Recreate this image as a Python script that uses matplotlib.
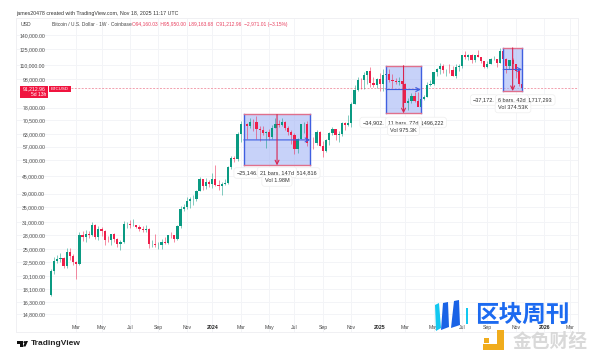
import matplotlib
matplotlib.use("Agg")
import matplotlib.pyplot as plt
import matplotlib.dates as mdates
from matplotlib.patches import Polygon, Rectangle, Circle
import pandas as pd

plt.rcParams["font.family"] = ["Liberation Sans", "DejaVu Sans"]

# weekly BTCUSD candles, first bar is week of 2023-01-09
first_week = "2023-01-09"
opens = [17180, 20880, 22700, 23020, 23320, 21850, 24300, 23550, 22430, 22150,
         27980, 27480, 28170, 27950, 30300, 27590, 29250, 28850, 26780, 26750,
         28080, 27100, 25900, 26340, 30480, 30600, 30280, 30300, 29780, 29350,
         29050, 29300, 26050, 26050, 25850, 25850, 26530, 26250, 27970, 27930,
         27150, 29980, 34500, 35000, 36700, 37400, 37450, 39950, 43750, 41400,
         43000, 42300, 43950, 41750, 41550, 42050, 42600, 48300, 52150, 51700,
         63100, 68400, 68400, 67200, 69650, 69350, 65700, 64950, 63400, 64000,
         61500, 66250, 68500, 67750, 69650, 66200, 64250, 62700, 55900, 60800,
         68150, 68250, 58700, 58700, 58450, 64200, 57300, 54850, 60000, 63600,
         65600, 62800, 62900, 69000, 68000, 68800, 80400, 89800, 97700, 97200,
         101200, 104400, 95200, 93700, 98300, 94500, 101300, 102600, 97700, 96500,
         96100, 96300, 94200, 80700, 82500, 86000, 82400, 78300, 83600, 85200,
         93700, 94300, 104000, 106400, 109000, 105700, 105700, 105500, 100900, 108400,
         109200, 119000, 117300, 119400, 114200, 119300, 117500, 113500, 108200, 111100,
         115300, 115300, 112100, 123500, 115000, 108700, 114500, 110500, 104700, 94160]
highs = [21300, 23370, 23800, 24250, 23450, 25250, 25100, 23900, 22600, 28700,
         28900, 29200, 28800, 31000, 30480, 30000, 29800, 29150, 27650, 27500,
         28450, 27400, 26800, 31400, 31000, 31500, 31800, 30400, 30300, 30050,
         30200, 29700, 26800, 28150, 26400, 27000, 27500, 28050, 28600, 28000,
         30200, 35300, 35900, 38000, 37950, 38450, 40250, 44750, 43800, 44300,
         43700, 45900, 49050, 43600, 42800, 43850, 48600, 52800, 53000, 64000,
         70000, 73800, 68900, 71700, 71300, 72800, 67200, 67200, 64700, 65500,
         67700, 71950, 70600, 71950, 70200, 67200, 65000, 63800, 61300, 68400,
         69400, 70000, 62700, 61800, 65000, 64400, 59800, 60700, 64100, 66500,
         65600, 64400, 69400, 69500, 73600, 81500, 93500, 99800, 98700, 104000,
         105000, 108300, 99900, 99000, 102700, 106400, 109300, 106500, 102500, 98800,
         99500, 96500, 95000, 84500, 87500, 88800, 88500, 83500, 86500, 95700,
         97400, 104300, 107000, 112000, 110700, 106800, 110500, 108900, 110600, 110500,
         119400, 123200, 120200, 119800, 119300, 124500, 117600, 113500, 113400, 116700,
         117900, 115400, 125700, 126200, 115900, 114000, 116400, 110700, 107500, 95950]
lows = [17150, 20400, 22300, 22500, 21400, 21400, 22800, 21950, 19570, 21900,
        26600, 26500, 27200, 27800, 27100, 26950, 27700, 25800, 26350, 25850,
        26500, 25350, 24800, 26250, 29500, 29700, 29950, 29600, 28900, 28600,
        28700, 25200, 25350, 25400, 24900, 24900, 26000, 26000, 27200, 26500,
        26900, 29700, 34000, 34550, 34800, 35600, 36700, 39950, 40200, 40500,
        41300, 40750, 41500, 40300, 38500, 41900, 42300, 47700, 50500, 50900,
        59000, 64500, 60800, 66400, 64500, 60700, 59600, 62400, 56500, 60200,
        60800, 66100, 66700, 67500, 65000, 62700, 58400, 53500, 54300, 60700,
        63400, 57200, 49000, 56100, 57800, 57200, 52500, 54600, 57500, 62700,
        60000, 58900, 62000, 65100, 67500, 66800, 80300, 89400, 90800, 90500,
        94200, 92200, 92000, 91500, 89200, 89300, 98200, 96200, 91200, 94100,
        93300, 78200, 81500, 76600, 81100, 81600, 81300, 74500, 83100, 85000,
        92900, 93400, 100700, 102000, 103000, 100400, 102700, 100800, 99000, 105100,
        107500, 115700, 114700, 111900, 112600, 116800, 111700, 107300, 107300, 110600,
        114400, 108600, 111600, 102000, 103500, 106200, 106300, 98900, 93000, 89163]
closes = [20880, 22700, 23020, 23320, 21850, 24300, 23550, 22430, 22150, 27980,
          27480, 28170, 27950, 30300, 27590, 29250, 28850, 26780, 26750, 28080,
          27100, 25900, 26340, 30480, 30600, 30280, 30300, 29780, 29350, 29050,
          29300, 26050, 26050, 25850, 25850, 26530, 26250, 27970, 27930, 27150,
          29980, 34500, 35000, 36700, 37400, 37450, 39950, 43750, 41400, 43000,
          42300, 43950, 41750, 41550, 42050, 42600, 48300, 52150, 51700, 63100,
          68400, 68400, 67200, 69650, 69350, 65700, 64950, 63400, 64000, 61500,
          66250, 68500, 67750, 69650, 66200, 64250, 62700, 55900, 60800, 68150,
          68250, 58700, 58700, 58450, 64200, 57300, 54850, 60000, 63600, 65600,
          62800, 62900, 69000, 68000, 68800, 80400, 89800, 97700, 97200, 101200,
          104400, 95200, 93700, 98300, 94500, 101300, 102600, 97700, 96500, 96100,
          96300, 94200, 80700, 82500, 86000, 82400, 78300, 83600, 85200, 93700,
          94300, 104000, 106400, 109000, 105700, 105700, 105500, 100900, 108400, 109200,
          119000, 117300, 119400, 114200, 119300, 117500, 113500, 108200, 111100, 115300,
          115300, 112100, 123500, 115000, 108700, 114500, 110500, 104700, 94160, 91212]

price_ticks = [140000, 125000, 110000, 98000, 78000, 70500, 63000, 57000, 51000, 45000,
               39000, 35000, 31000, 28000, 25000, 22500, 20100, 18100, 16300, 14800]
month_ticks = ["2023-03-06", "2023-05-01", "2023-07-03", "2023-09-04", "2023-11-06",
               "2024-01-01", "2024-03-04", "2024-05-06", "2024-07-01", "2024-09-02", "2024-11-04",
               "2025-01-06", "2025-03-03", "2025-05-05", "2025-07-07", "2025-09-01", "2025-11-03",
               "2026-01-05", "2026-03-02"]
month_labels = ["Mar", "May", "Jul", "Sep", "Nov", "2024", "Mar", "May", "Jul", "Sep", "Nov",
                "2025", "Mar", "May", "Jul", "Sep", "Nov", "2026", "Mar"]

# measure tool boxes: start week, end week, top price, bottom price
box_starts = ["2024-03-11", "2025-01-20", "2025-10-06"]
box_ends = ["2024-08-05", "2025-04-07", "2025-11-17"]
box_tops = [73800, 109300, 126200]
box_bottoms = [49000, 74500, 89163]

last_price = 91212.96
GREEN = "#0a9a82"
RED = "#ee1f4b"
BLUE = "#3f5fe0"
W, H = 600, 362

dates = mdates.date2num(pd.date_range(first_week, periods=len(closes), freq="7D"))
day_px = 3.17 / 7  # pixels per day on the time axis

fig = plt.figure(figsize=(6, 3.62), dpi=100)
L, R, T, B = 16, 578, 18, 332
ax = fig.add_axes([L / W, 1 - B / H, (R - L) / W, (B - T) / H])
ax.set_yscale("log")
ax.set_ylim(12800, 160550)
ax.set_xlim(dates[0] - (51 - L) / day_px, dates[-1] + (R - 522) / day_px)

month_nums = mdates.date2num(pd.to_datetime(month_ticks))
ax.set_yticks(price_ticks)
ax.set_yticklabels([f"{p:,.2f}" for p in price_ticks], fontsize=3.7, color="#4a4a4a")
ax.yaxis.set_minor_locator(plt.NullLocator())
ax.tick_params(axis="y", which="both", length=0, pad=-21)
ax.set_xticks(month_nums)
ax.set_xticklabels(month_labels, fontsize=3.7, color="#4a4a4a")
ax.tick_params(axis="x", length=0, pad=-5.3)
for lab, txt in zip(ax.get_xticklabels(), month_labels):
    if txt.startswith("20"):
        lab.set_fontweight("bold")
        lab.set_color("#222222")
ax.grid(True, which="major", color="#f3f4f7", lw=0.7)
ax.set_axisbelow(True)
for s in ax.spines.values():
    s.set_color("#f0f0f3")
    s.set_linewidth(0.7)

# candles
for d, o, h, l, c in zip(dates, opens, highs, lows, closes):
    col = GREEN if c >= o else RED
    ax.vlines(d, l, h, color=col, lw=0.55, alpha=0.65, zorder=3)
    ax.bar(d, abs(c - o), bottom=min(o, c), width=5.0, color=col, lw=0, zorder=3)

# last price line
ax.plot([dates[0] + 20 / day_px, dates[-1] + 56 / day_px], [last_price, last_price],
        color="#f2a0ae", lw=0.7, ls=(0, (2, 1.5)), zorder=2)

# measure boxes
for st, en, top, bot in zip(box_starts, box_ends, box_tops, box_bottoms):
    x0, x1 = mdates.date2num(pd.Timestamp(st)), mdates.date2num(pd.Timestamp(en))
    mid = (top * bot) ** 0.5
    xm = (x0 + x1) / 2
    ax.add_patch(Rectangle((x0, bot), x1 - x0, top - bot, fc="#9fb2f5", alpha=0.58, lw=0, zorder=2.5))
    ax.plot([x0, x0], [bot, top], color=BLUE, lw=1.0, zorder=5)
    ax.plot([x1, x1], [bot, top], color=BLUE, lw=1.0, zorder=5)
    ax.plot([x0, x1], [top, top], color="#e0708c", lw=1.0, zorder=5)
    ax.plot([x0, x1], [bot, bot], color="#e0708c", lw=1.0, zorder=5)
    ax.annotate("", xy=(x1, mid), xytext=(x0, mid), zorder=5,
                arrowprops=dict(arrowstyle="->", color=BLUE, lw=0.8, shrinkA=0, shrinkB=0, mutation_scale=7))
    ax.annotate("", xy=(xm, bot), xytext=(xm, top), zorder=5,
                arrowprops=dict(arrowstyle="->", color="#d8244f", lw=0.8, shrinkA=0, shrinkB=0, mutation_scale=7))

# overlay in pixels for the texts and logos
ov = fig.add_axes([0, 0, 1, 1], facecolor="none")
ov.set_xlim(0, W)
ov.set_ylim(H, 0)
ov.axis("off")

ov.text(16, 14, "james20478 created with TradingView.com, Nov 18, 2025 11:17 UTC",
        fontsize=3.75, color="#333333", va="center")
ov.text(21, 24.5, "USD", fontsize=3.7, color="#444444", va="center")
ov.text(52, 24.5, "Bitcoin / U.S. Dollar · 1W · Coinbase", fontsize=3.5, color="#444444", va="center")
ov.text(132, 24.5, "O94,160.03  H95,950.00  L89,163.68  C91,212.96  −2,971.01 (−3.15%)",
        fontsize=3.5, color="#e8405f", va="center")

# price tag
ov.add_patch(Rectangle((20, 86), 28, 12, fc="#f0143f", lw=0))
ov.add_patch(Rectangle((49, 86), 22, 6, fc="#f0143f", lw=0))
ov.text(46, 89, "91,212.96", fontsize=3.7, color="white", ha="right", va="center")
ov.text(46, 94.5, "5d 13h", fontsize=3.6, color="white", ha="right", va="center")
ov.text(60, 89.2, "BTCUSD", fontsize=3.2, color="white", ha="center", va="center")


def label(x0, x1, y, txt):
    ov.text((x0 + x1) / 2, y, txt, fontsize=4.0, color="#333333", ha="center", va="center", zorder=7,
            bbox=dict(boxstyle="round,pad=0.5", fc="white", ec="#eeeeee", lw=0.5))


label(238, 257, 173, "−25,146.")
label(297, 316, 173, ",514,816")
label(261, 293, 172.5, "21 bars, 147d")
label(266, 288, 181, "Vol 1.98M")
label(364, 383, 122.5, "−34,902.")
label(420, 443, 122.5, "3,496,222")
label(389, 418, 122.5, "11 bars, 77d")
label(391, 416, 130, "Vol 975.3K")
label(474, 494, 100, "−37,172.")
label(529, 551, 100, "1,717,293")
label(499, 525, 100, "6 bars, 42d")
label(498, 528, 107.5, "Vol 374.53K")

# TradingView logo
ov.add_patch(Polygon([(17, 341), (23, 341), (23, 346.5), (20, 346.5), (20, 343.5), (17, 343.5)], fc="#111111", lw=0))
ov.add_patch(Circle((24.6, 342.2), 1.1, fc="#111111", lw=0))
ov.add_patch(Polygon([(25.5, 341), (28, 341), (25.5, 346.5), (23, 346.5)], fc="#111111", lw=0))
ov.text(31, 343.5, "TradingView", fontsize=6.0, fontweight="bold", color="#222222", va="center")

# watermarks
ov.add_patch(Polygon([(435, 305), (439, 303), (441, 328), (436, 331)], fc="#12c8f0", lw=0, zorder=8))
ov.add_patch(Polygon([(443, 303), (448, 302), (449, 327), (441, 330)], fc="#1a63e6", lw=0, zorder=8))
ov.add_patch(Polygon([(454, 301), (459, 300), (460, 325), (451, 328)], fc="#1a63e6", lw=0, zorder=8))
ov.add_patch(Polygon([(466, 308), (468, 308), (468, 324), (466, 324)], fc="#12c8f0", lw=0, zorder=8))
ov.text(522, 314.5, "区块周刊", fontsize=17, fontweight="bold", color="#1c6af0",
        family="Noto Sans CJK SC", ha="center", va="center", zorder=8)
ov.add_patch(Polygon([(497, 330), (504, 330), (504, 350), (483, 350), (483, 344), (497, 344)], fc="#f0ac1c", lw=0, zorder=8))
ov.add_patch(Rectangle((484, 338), 5, 5, fc="#f0ac1c", lw=0, zorder=8))
ov.text(550, 341.5, "金色财经", fontsize=13.5, fontweight="bold", color="#d9d9d9",
        family="Noto Sans CJK SC", ha="center", va="center", zorder=8)

fig.savefig("out.png", dpi=100)
